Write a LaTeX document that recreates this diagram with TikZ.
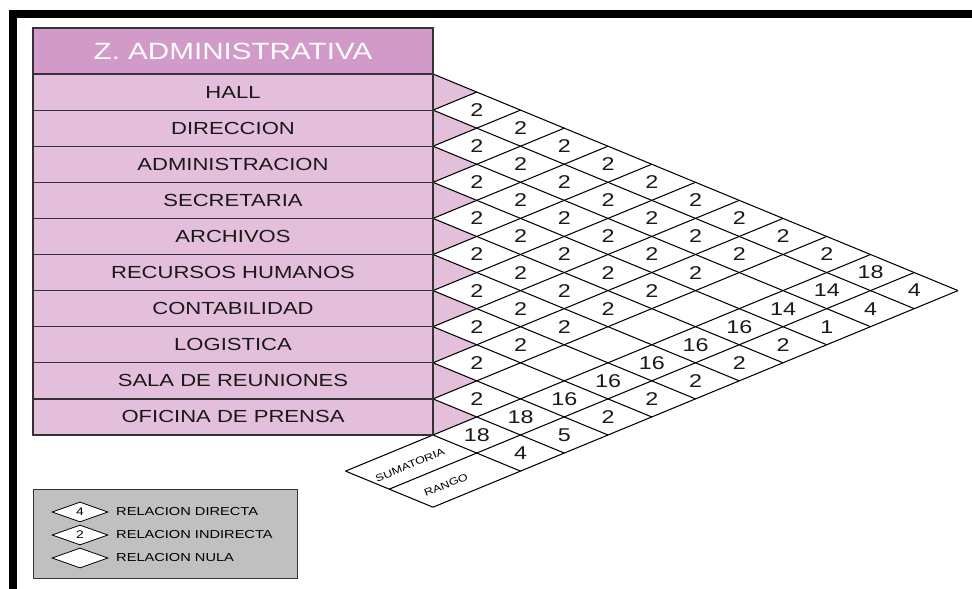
\documentclass[tikz,border=0pt]{standalone}
\usepackage{fontspec}
\setmainfont{Liberation Sans}[FakeStretch=1.26]
\usetikzlibrary{shapes.geometric}
\definecolor{zahead}{RGB}{210,154,200}
\definecolor{zarow}{RGB}{227,191,220}
\definecolor{zaleg}{RGB}{192,192,192}
\definecolor{zaline}{RGB}{51,51,51}
\newcommand{\zafs}[1]{\fontsize{#1pt}{#1pt}\selectfont}
\tikzset{
  rowbox/.style={draw=zaline,line width=1.2pt,fill=zarow,minimum width=400pt,
    minimum height=36.1pt,inner sep=0pt,text=black!90,font=\zafs{17.5}},
  headbox/.style={rowbox,fill=zahead,minimum height=46pt,text=white,font=\zafs{23.5}},
  relval/.style={inner sep=0pt,font=\zafs{18.5},text=black!90},
  sidetag/.style={inner sep=0pt,font=\zafs{10},rotate=22.42},
  legdiam/.style={diamond,draw,line width=0.8pt,fill=white,aspect=2.8,
    minimum width=56pt,minimum height=20pt,inner sep=0pt,font=\zafs{11}},
  legtext/.style={anchor=west,inner sep=0pt,font=\zafs{11.6}},
  lattice/.style={black,line width=1.05pt}
}
\newcommand{\zacell}[2]{({433+(#2-#1)*43.75},{74+18.05*(#1+#2-1)})}
\newcommand{\zalattice}{%
  \foreach \m in {0,...,10}{%
    \draw[lattice](433,{74+36.1*\m})--++({(12-\m)*43.75},{(12-\m)*18.05});
  }
  \foreach \m in {1,...,10}{%
    \draw[lattice](433,{74+36.1*\m})--++({\m*43.75},{-\m*18.05});
  }
  \draw[lattice](345.5,471.1)--(433,435);
  \draw[lattice](389.25,489.15)--(914.25,272.55);
  \draw[lattice](433,507.2)--(958,290.6);
  \draw[lattice](345.5,471.1)--(433,507.2);
}

\begin{document}
\begin{tikzpicture}[x=1pt,y=-1pt]
  \useasboundingbox(0,0)rectangle(972,589);
  \fill[white](0,0)rectangle(972,589);
  \draw[line width=8pt,miter limit=4](13,589)--(13,14)--(972,14);
  \foreach \i in {1,...,10}{%
    \fill[zarow](433,{74+36.1*(\i-1)})--(433,{74+36.1*\i})--(476.75,{74+36.1*(\i-0.5)})--cycle;
  }
  \zalattice
  \node[headbox](zhead)at(233,51){Z. ADMINISTRATIVA};
  \foreach \lab [count=\i] in {HALL,DIRECCION,ADMINISTRACION,SECRETARIA,ARCHIVOS,%
      RECURSOS HUMANOS,CONTABILIDAD,LOGISTICA,SALA DE REUNIONES,OFICINA DE PRENSA}{%
    \node[rowbox](row\i)at(233,{74+36.1*(\i-0.5)}){\lab};
  }
  \foreach \i in {1,...,8}{%
    \pgfmathtruncatemacro{\jfrom}{\i+1}
    \foreach \j in {\jfrom,...,9}{%
      \node[relval](p\i-\j)at\zacell{\i}{\j}{2};
    }
  }
  \node[relval](p1-10)at\zacell{1}{10}{2};
  \node[relval](p9-10)at\zacell{9}{10}{2};
  \foreach \i/\sm/\rg in {1/18/4,2/14/4,3/14/1,4/16/2,5/16/2,6/16/2,7/16/2,8/16/2,9/18/5,10/18/4}{%
    \node[relval](s\i)at\zacell{\i}{11}{\sm};
    \node[relval](g\i)at\zacell{\i}{12}{\rg};
  }
  \node[sidetag](sumtag)at(410,465){SUMATORIA};
  \node[sidetag](rangotag)at(446,485){RANGO};
  \node[draw=zaline,fill=zaleg,line width=0.8pt,minimum width=264pt,minimum height=89pt,
    inner sep=0pt](legbox)at(165,533.5){};
  \node[legdiam](legd1)at(80,512){4};
  \node[legdiam](legd2)at(80,535){2};
  \node[legdiam](legd3)at(80,558){};
  \node[legtext](legt1)at(116,512){RELACION DIRECTA};
  \node[legtext](legt2)at(116,535){RELACION INDIRECTA};
  \node[legtext](legt3)at(116,558){RELACION NULA};
\end{tikzpicture}
\end{document}
